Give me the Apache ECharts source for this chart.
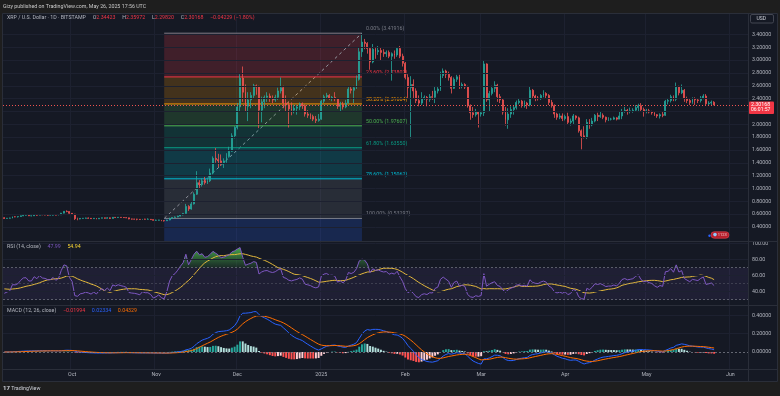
<!DOCTYPE html>
<html><head><meta charset="utf-8">
<script src="https://cdn.jsdelivr.net/npm/echarts@6/dist/echarts.min.js"></script>
<style>html,body{margin:0;padding:0;background:#151924;}#c{width:780px;height:396px;}</style>
</head><body><div id="c"></div>
<script>
// ---------- DATA ----------
const startDate = '2024-09-06';
const totalDays = 275; // daily slots shown on the time scale (data + right margin)
const tickDates  = ['2024-10-01','2024-11-01','2024-12-01','2025-01-01','2025-02-01','2025-03-01','2025-04-01','2025-05-01','2025-06-01'];
const tickLabels = ['Oct','Nov','Dec','2025','Feb','Mar','Apr','May','Jun'];
const priceTicks = [0.4,0.6,0.8,1.0,1.2,1.4,1.6,1.8,2.0,2.2,2.4,2.6,2.8,3.0,3.2,3.4];
const rsiTicks  = [40,60,80,100];
const macdTicks = [0,0.2,0.4];

const firstOpen = 0.545;
// daily bars: [close, high, low]; open = previous close
const sep2024 = [
 [0.533,0.552,0.525],[0.537,0.541,0.530],[0.540,0.545,0.532],[0.560,0.562,0.535],[0.559,0.568,0.552],
 [0.563,0.566,0.548],[0.574,0.578,0.560],[0.583,0.588,0.569],[0.584,0.590,0.578],[0.575,0.588,0.570],
 [0.575,0.580,0.566],[0.589,0.595,0.572],[0.584,0.595,0.575],[0.595,0.603,0.582],[0.589,0.598,0.584],
 [0.588,0.591,0.583],[0.585,0.592,0.575],[0.585,0.594,0.580],[0.591,0.596,0.578],[0.585,0.596,0.582],
 [0.590,0.596,0.580],[0.616,0.620,0.588],[0.644,0.646,0.612],[0.642,0.659,0.630],[0.613,0.645,0.605]];
const oct2024 = [
 [0.600,0.617,0.590],[0.530,0.605,0.510],[0.525,0.545,0.505],[0.534,0.538,0.520],[0.536,0.540,0.530],
 [0.540,0.545,0.532],[0.536,0.548,0.530],[0.530,0.540,0.525],[0.536,0.540,0.528],[0.527,0.540,0.520],
 [0.537,0.540,0.525],[0.543,0.546,0.535],[0.536,0.545,0.530],[0.543,0.552,0.533],[0.533,0.548,0.525],
 [0.551,0.556,0.532],[0.547,0.553,0.540],[0.551,0.555,0.543],[0.548,0.553,0.544],[0.546,0.550,0.540],
 [0.543,0.555,0.538],[0.525,0.545,0.520],[0.523,0.530,0.515],[0.522,0.528,0.516],[0.520,0.528,0.505],
 [0.517,0.522,0.510],[0.523,0.526,0.513],[0.520,0.528,0.515],[0.520,0.535,0.515],[0.515,0.525,0.510],
 [0.504,0.518,0.500]];
const nov2024 = [
 [0.506,0.515,0.495],[0.509,0.512,0.500],[0.500,0.510,0.490],[0.497,0.505,0.485],[0.509,0.515,0.495],
 [0.532,0.545,0.505],[0.549,0.555,0.530],[0.556,0.565,0.545],[0.570,0.575,0.552],[0.590,0.600,0.565],
 [0.612,0.618,0.580],[0.720,0.760,0.630],[0.680,0.740,0.650],[0.760,0.790,0.670],[0.910,0.940,0.750],
 [1.090,1.270,0.900],[1.060,1.130,0.990],[1.120,1.160,1.030],[1.090,1.180,1.060],[1.120,1.170,1.070],
 [1.240,1.310,1.100],[1.470,1.500,1.220],[1.450,1.630,1.400],[1.430,1.540,1.330],[1.400,1.530,1.350],
 [1.430,1.470,1.320],[1.500,1.550,1.400],[1.580,1.650,1.480],[1.820,1.860,1.570],[1.950,1.970,1.780]];
const dec2024 = [
 [2.270,2.330,1.920],[2.720,2.780,2.200],[2.500,2.900,2.350],[2.280,2.620,2.200],[2.380,2.500,2.050],
 [2.450,2.500,2.250],[2.600,2.630,2.400],[2.580,2.620,2.460],[2.220,2.600,1.940],[2.350,2.430,2.030],
 [2.420,2.450,2.250],[2.440,2.500,2.350],[2.400,2.480,2.350],[2.380,2.450,2.330],[2.420,2.460,2.350],
 [2.520,2.570,2.380],[2.570,2.730,2.480],[2.330,2.600,2.250],[2.300,2.450,2.200],[2.240,2.350,1.950],
 [2.220,2.340,2.140],[2.250,2.300,2.170],[2.270,2.300,2.150],[2.320,2.340,2.220],[2.290,2.340,2.240],
 [2.160,2.310,2.120],[2.140,2.220,2.100],[2.120,2.170,2.080],[2.080,2.150,2.050],[2.060,2.130,2.020],
 [2.080,2.160,2.040]];
const jan2025 = [
 [2.360,2.380,2.070],[2.430,2.460,2.330],[2.450,2.490,2.390],[2.410,2.470,2.380],[2.420,2.440,2.360],
 [2.400,2.500,2.360],[2.280,2.410,2.240],[2.310,2.350,2.200],[2.270,2.350,2.230],[2.330,2.380,2.250],
 [2.550,2.580,2.320],[2.530,2.580,2.480],[2.570,2.600,2.330],[2.700,2.760,2.550],[3.130,3.200,2.680],
 [3.280,3.410,3.050],[3.260,3.330,3.170],[3.180,3.280,3.100],[2.970,3.200,2.850],[3.170,3.250,2.950],
 [3.130,3.200,3.020],[3.150,3.220,3.080],[3.120,3.200,3.000],[3.100,3.170,3.050],[3.120,3.150,3.050],
 [3.060,3.150,3.030],[3.100,3.120,2.680],[3.080,3.150,3.020],[3.180,3.200,3.050],[3.060,3.220,3.030],
 [2.950,3.100,2.900]];
const feb2025 = [
 [2.730,2.970,2.700],[2.570,2.780,2.400],[2.620,2.750,1.780],[2.520,2.700,2.400],[2.370,2.560,2.330],
 [2.330,2.450,2.280],[2.400,2.500,2.300],[2.420,2.450,2.380],[2.390,2.440,2.280],[2.430,2.470,2.350],
 [2.420,2.520,2.380],[2.520,2.580,2.330],[2.550,2.580,2.480],[2.760,2.820,2.520],[2.830,2.870,2.720],
 [2.780,2.850,2.720],[2.730,2.820,2.680],[2.560,2.750,2.480],[2.700,2.730,2.550],[2.740,2.770,2.660],
 [2.590,2.770,2.550],[2.620,2.650,2.560],[2.580,2.640,2.550],[2.290,2.600,2.260],[2.180,2.310,2.070],
 [2.150,2.270,2.100],[2.190,2.240,2.120],[2.160,2.200,1.950]];
const mar2025 = [
 [2.180,2.210,2.120],[2.940,3.000,2.130],[2.380,2.950,2.350],[2.480,2.520,2.200],[2.560,2.600,2.450],
 [2.610,2.670,2.500],[2.430,2.630,2.350],[2.380,2.470,2.330],[2.190,2.400,2.150],[2.070,2.270,1.980],
 [2.160,2.250,1.930],[2.230,2.280,2.100],[2.260,2.300,2.150],[2.340,2.370,2.230],[2.360,2.400,2.310],
 [2.310,2.380,2.260],[2.330,2.370,2.260],[2.300,2.350,2.240],[2.530,2.590,2.280],[2.440,2.550,2.400],
 [2.410,2.460,2.360],[2.400,2.440,2.370],[2.450,2.470,2.380],[2.480,2.530,2.420],[2.450,2.500,2.400],
 [2.340,2.470,2.300],[2.290,2.380,2.260],[2.160,2.310,2.100],[2.110,2.180,2.070],[2.130,2.170,2.080],
 [2.090,2.170,2.050]];
const apr2025 = [
 [2.120,2.150,2.060],[2.030,2.180,2.000],[2.050,2.090,1.980],[2.130,2.160,2.000],[2.100,2.140,2.070],
 [1.900,2.120,1.870],[1.820,1.920,1.610],[1.800,1.970,1.780],[2.030,2.080,1.770],[1.990,2.080,1.930],
 [2.050,2.100,1.970],[2.140,2.160,2.030],[2.120,2.180,2.050],[2.140,2.200,2.100],[2.110,2.170,2.080],
 [2.070,2.120,2.030],[2.080,2.110,2.050],[2.080,2.100,2.060],[2.100,2.120,2.070],[2.080,2.110,2.060],
 [2.130,2.200,2.080],[2.200,2.240,2.080],[2.220,2.270,2.180],[2.200,2.240,2.150],[2.210,2.260,2.170],
 [2.220,2.250,2.180],[2.260,2.300,2.200],[2.290,2.320,2.190],[2.230,2.330,2.200],[2.200,2.260,2.120]];
const may2025 = [
 [2.210,2.240,2.170],[2.190,2.240,2.170],[2.180,2.210,2.150],[2.150,2.190,2.130],[2.130,2.160,2.100],
 [2.150,2.170,2.090],[2.140,2.190,2.110],[2.360,2.380,2.130],[2.370,2.410,2.310],[2.430,2.460,2.340],
 [2.390,2.450,2.360],[2.590,2.650,2.360],[2.490,2.600,2.450],[2.530,2.620,2.470],[2.400,2.550,2.350],
 [2.370,2.430,2.330],[2.340,2.400,2.300],[2.390,2.420,2.320],[2.380,2.420,2.300],[2.370,2.400,2.330],
 [2.410,2.440,2.340],[2.440,2.470,2.390],[2.320,2.470,2.300],[2.330,2.360,2.300],[2.34423,2.370,2.300],
 [2.30168,2.35972,2.29820]];

// Fibonacci retracement drawn on the chart
const fibStartDate = '2024-11-04';
const fibEndDate   = '2025-01-16';
const fibPrices = [3.41916,2.73802,2.31664,1.97607,1.63550,1.15062,0.53297];
const fibLabels = ['0.00% (3.41916)','23.60% (2.73802)','38.20% (2.31664)','50.00% (1.97607)','61.80% (1.63550)','78.60% (1.15062)','100.00% (0.53297)'];

// legend values shown in the reference
const legendOHLC = ['2.34423','2.35972','2.29820','2.30168'];
const legendChange = '\u22120.04229 (\u22121.80%)';
const rsiLegend = ['47.99','54.94'];
const macdLegend = ['\u22120.01994','0.02334','0.04329'];
const rsiStart = 38, rsiMaStart = 44;   // indicator values at the left edge

// ---------- STYLE / LAYOUT ----------
const FONT = 'Roboto, "Liberation Sans", sans-serif';
const TXT = '#b2b5be';
const UP = '#26a69a', DOWN = '#ef5350';
const GRIDC = '#1d2130';
const FS = 5.3;
const mainMin = 0.182, mainMax = 3.718;
const fibLineColors = ['#787b86','#f23645','#ff9800','#4caf50','#089981','#00bcd4','#787b86'];
const fibFillColors = ['rgba(242,54,69,0.2)','rgba(255,152,0,0.2)','rgba(76,175,80,0.2)','rgba(8,153,129,0.2)','rgba(0,188,212,0.2)','rgba(120,123,134,0.2)','rgba(41,98,255,0.2)'];

// ---------- BUILD ----------
const bars = [].concat(sep2024, oct2024, nov2024, dec2024, jan2025, feb2025, mar2025, apr2025, may2025);
const closes = bars.map(b => b[0]);
const opens = closes.map((c, i) => i === 0 ? firstOpen : closes[i - 1]);
const candleData = bars.map((b, i) => [opens[i], b[0], b[2], b[1]]);

const dates = [];
const d0 = Date.UTC(2024, 8, 6);
for (let i = 0; i < totalDays; i++) dates.push(new Date(d0 + i * 86400000).toISOString().slice(0, 10));

// RSI(14, close) with its 14-bar moving average
const avgMove = 0.011;
let au = avgMove * rsiStart / 100, ad = avgMove * (1 - rsiStart / 100);
const rsi = [rsiStart];
for (let i = 1; i < closes.length; i++) {
  const ch = closes[i] - closes[i - 1];
  au = (au * 13 + Math.max(ch, 0)) / 14;
  ad = (ad * 13 + Math.max(-ch, 0)) / 14;
  rsi.push(ad === 0 ? 100 : 100 - 100 / (1 + au / ad));
}
const rsiMa = rsi.map((v, i) => {
  let s = 0, c = 0;
  for (let j = Math.max(0, i - 13); j <= i; j++) { s += rsi[j]; c++; }
  return (s + rsiMaStart * (14 - c)) / 14;
});
// MACD(12, 26, close)
function ema(src, len) { const a = 2 / (len + 1); let e = src[0]; return src.map((v, i) => (e = i === 0 ? v : a * v + (1 - a) * e)); }
const e12 = ema(closes, 12), e26 = ema(closes, 26);
const macd = e12.map((v, i) => v - e26[i]);
const signal = ema(macd, 9);
const hist = macd.map((v, i) => v - signal[i]);
const histData = hist.map((h, i) => {
  const p = i === 0 ? 0 : hist[i - 1];
  const col = h >= 0 ? (h > p ? '#26a69a' : '#b2dfdb') : (h < p ? '#ff5252' : '#ffcdd2');
  return { value: h, itemStyle: { color: col } };
});

const isTick = (i, v) => tickDates.indexOf(v) >= 0;
const xAxes = [0, 1, 2].map(g => ({
  gridIndex: g, type: 'category', data: dates, boundaryGap: true,
  axisLine: { show: false }, axisTick: { show: false },
  axisLabel: { show: g === 2, interval: isTick, formatter: v => tickLabels[tickDates.indexOf(v)] || '',
    color: TXT, fontSize: FS, fontFamily: FONT, margin: 3 },
  splitLine: { show: true, interval: isTick, lineStyle: { color: GRIDC, width: 1 } }
}));
const yLabel = (vals, fmt) => ({ customValues: vals, color: TXT, fontSize: FS, fontFamily: FONT, margin: 4, formatter: fmt });
const yAxes = [
  { gridIndex: 0, type: 'value', position: 'right', min: mainMin, max: mainMax,
    axisLine: { show: false }, axisTick: { show: false, customValues: priceTicks }, splitLine: { show: false },
    axisLabel: yLabel(priceTicks, v => v.toFixed(5)) },
  { gridIndex: 1, type: 'value', position: 'right', min: 23.4, max: 103.4,
    axisLine: { show: false }, axisTick: { show: false, customValues: rsiTicks }, splitLine: { show: false },
    axisLabel: yLabel(rsiTicks, v => v.toFixed(2)) },
  { gridIndex: 2, type: 'value', position: 'right', min: -0.185, max: 0.512,
    axisLine: { show: false }, axisTick: { show: false, customValues: macdTicks }, splitLine: { show: false },
    axisLabel: yLabel(macdTicks, v => v.toFixed(5)) }
];
const gridLines = (vals) => vals.map(v => ({ yAxis: v, lineStyle: { color: GRIDC, width: 1, type: 'solid' } }));

const i0 = dates.indexOf(fibStartDate), i1 = dates.indexOf(fibEndDate);
const fibSeries = {
  type: 'custom', xAxisIndex: 0, yAxisIndex: 0, z: 1, silent: true, clip: true,
  data: fibPrices.map((p, k) => [k]),
  encode: { x: -1, y: -1 },
  renderItem(params, api) {
    const k = params.dataIndex;
    const tl = api.coord([i0, fibPrices[k]]);
    const tr = api.coord([i1, fibPrices[k]]);
    const lowP = k < fibPrices.length - 1 ? fibPrices[k + 1] : mainMin;
    const bl = api.coord([i0, lowP]);
    const children = [
      { type: 'rect', shape: { x: tl[0], y: tl[1], width: tr[0] - tl[0], height: bl[1] - tl[1] }, style: { fill: fibFillColors[k] } },
      { type: 'line', shape: { x1: tl[0], y1: tl[1], x2: tr[0], y2: tr[1] }, style: { stroke: fibLineColors[k], lineWidth: 1 } },
      { type: 'text', style: { text: fibLabels[k], x: tr[0] + 4, y: tr[1] - 2, fill: fibLineColors[k], fontSize: FS, fontFamily: FONT,
          textAlign: 'left', textVerticalAlign: 'bottom', align: 'left', verticalAlign: 'bottom' } }
    ];
    if (k === 0) {
      const a = api.coord([i0, fibPrices[fibPrices.length - 1]]);
      children.push({ type: 'line', shape: { x1: a[0], y1: a[1], x2: tr[0], y2: tr[1] }, style: { stroke: '#9598a1', lineWidth: 1, lineDash: [3, 3] } });
    }
    return { type: 'group', children };
  }
};

const lastClose = closes[closes.length - 1];
const option = {
  backgroundColor: '#151924',
  animation: false,
  grid: [
    { left: 3, right: 32, top: 14, height: 227, outerBoundsMode: 'none' },
    { left: 3, right: 32, top: 241, height: 64, outerBoundsMode: 'none' },
    { left: 3, right: 32, top: 305, height: 64, outerBoundsMode: 'none' }
  ],
  xAxis: xAxes, yAxis: yAxes,
  series: [
    { type: 'line', xAxisIndex: 0, yAxisIndex: 0, data: [], z: 0, silent: true,
      markLine: { silent: true, symbol: ['none', 'none'], label: { show: false }, data: gridLines(priceTicks) } },
    fibSeries,
    { type: 'candlestick', name: 'XRPUSD', xAxisIndex: 0, yAxisIndex: 0, data: candleData, barWidth: 1.4, z: 3,
      itemStyle: { color: UP, color0: DOWN, borderColor: UP, borderColor0: DOWN, borderWidth: 0.8 },
      markLine: { silent: true, symbol: ['none', 'none'], label: { show: false },
        data: [{ yAxis: lastClose, lineStyle: { color: DOWN, width: 1, type: [1, 2] } }] } },
    // RSI pane
    { type: 'line', xAxisIndex: 1, yAxisIndex: 1, data: [], z: 0, silent: true,
      markLine: { silent: true, symbol: ['none', 'none'], label: { show: false }, data: gridLines(rsiTicks) } },
    { type: 'line', name: 'obBase', xAxisIndex: 1, yAxisIndex: 1, stack: 'ob', data: rsi.map(() => 70),
      showSymbol: false, lineStyle: { opacity: 0 }, silent: true, z: 2 },
    { type: 'line', name: 'obFill', xAxisIndex: 1, yAxisIndex: 1, stack: 'ob', data: rsi.map(v => Math.max(v - 70, 0)),
      showSymbol: false, lineStyle: { opacity: 0 }, silent: true, z: 2,
      areaStyle: { opacity: 1, color: { type: 'linear', x: 0, y: 0, x2: 0, y2: 1,
        colorStops: [{ offset: 0, color: 'rgba(76,175,80,0.95)' }, { offset: 1, color: 'rgba(56,142,60,0.15)' }] } } },
    { type: 'line', name: 'RSI', xAxisIndex: 1, yAxisIndex: 1, data: rsi, showSymbol: false, z: 4,
      lineStyle: { color: '#7e57c2', width: 1 },
      markArea: { silent: true, itemStyle: { color: 'rgba(126,87,194,0.1)' }, data: [[{ yAxis: 30 }, { yAxis: 70 }]] },
      markLine: { silent: true, symbol: ['none', 'none'], label: { show: false },
        lineStyle: { color: 'rgba(120,123,134,0.7)', type: [2, 2], width: 1 },
        data: [{ yAxis: 70 }, { yAxis: 50, lineStyle: { color: 'rgba(120,123,134,0.35)', type: [2, 2] } }, { yAxis: 30 }] } },
    { type: 'line', name: 'RSI MA', xAxisIndex: 1, yAxisIndex: 1, data: rsiMa, showSymbol: false, z: 3,
      lineStyle: { color: '#e3b83c', width: 1 } },
    // MACD pane
    { type: 'line', xAxisIndex: 2, yAxisIndex: 2, data: [], z: 0, silent: true,
      markLine: { silent: true, symbol: ['none', 'none'], label: { show: false }, data: gridLines(macdTicks.slice(1)) } },
    { type: 'bar', name: 'Histogram', xAxisIndex: 2, yAxisIndex: 2, data: histData, barWidth: '72%', z: 2,
      markLine: { silent: true, symbol: ['none', 'none'], label: { show: false },
        data: [{ yAxis: 0, lineStyle: { color: 'rgba(120,123,134,0.8)', type: [2, 2], width: 1 } }] } },
    { type: 'line', name: 'MACD', xAxisIndex: 2, yAxisIndex: 2, data: macd, showSymbol: false, z: 3,
      lineStyle: { color: '#2962ff', width: 1 } },
    { type: 'line', name: 'Signal', xAxisIndex: 2, yAxisIndex: 2, data: signal, showSymbol: false, z: 3,
      lineStyle: { color: '#ff6d00', width: 1 } }
  ]
};

const chart = echarts.init(document.getElementById('c'), null, { renderer: 'canvas' });
chart.setOption(option);

const py = chart.convertToPixel({ yAxisIndex: 0 }, lastClose);
const T = (text, x, y, fill, size) => ({ type: 'text', z: 50, silent: true,
  style: { text, x, y, fill, fontSize: size || FS, fontFamily: FONT, align: 'left', verticalAlign: 'middle' } });
const rs = (fill) => ({ fill, fontSize: FS, fontFamily: FONT });
chart.setOption({
  graphic: [
    { type: 'rect', z: 40, silent: true, shape: { x: 0, y: 0, width: 780, height: 13 }, style: { fill: '#1e1e1e' } },
    { type: 'rect', z: 40, silent: true, shape: { x: 0, y: 382, width: 780, height: 14 }, style: { fill: '#1e1e1e' } },
    { type: 'rect', z: 40, silent: true, shape: { x: 0, y: 13, width: 2, height: 369 }, style: { fill: '#1e1e1e' } },
    { type: 'rect', z: 40, silent: true, shape: { x: 778, y: 13, width: 2, height: 369 }, style: { fill: '#1e1e1e' } },
    { type: 'rect', z: 41, silent: true, shape: { x: 2.5, y: 13.5, width: 775, height: 368 }, style: { fill: null, stroke: '#2a2e39', lineWidth: 1 } },
    { type: 'line', z: 41, silent: true, shape: { x1: 3, y1: 241.5, x2: 777, y2: 241.5 }, style: { stroke: '#2a2e39', lineWidth: 1 } },
    { type: 'line', z: 41, silent: true, shape: { x1: 3, y1: 305.5, x2: 777, y2: 305.5 }, style: { stroke: '#2a2e39', lineWidth: 1 } },
    { type: 'line', z: 41, silent: true, shape: { x1: 3, y1: 369.5, x2: 777, y2: 369.5 }, style: { stroke: '#2a2e39', lineWidth: 1 } },
    { type: 'line', z: 41, silent: true, shape: { x1: 748.5, y1: 14, x2: 748.5, y2: 381 }, style: { stroke: '#2a2e39', lineWidth: 1 } },
    T('Gizy published on TradingView.com, May 26, 2025 17:56 UTC', 3, 6.5, '#c8c8c8', FS),
    { type: 'text', z: 50, silent: true, style: { x: 7, y: 17.3, verticalAlign: 'middle', align: 'left',
      text: '{g|XRP / U.S. Dollar \u00b7 1D \u00b7 BITSTAMP}  {g|O}{r|' + legendOHLC[0] + '}  {g|H}{r|' + legendOHLC[1] + '}  {g|L}{r|' + legendOHLC[2] + '}  {g|C}{r|' + legendOHLC[3] + '}  {r|' + legendChange + '}',
      rich: { g: rs(TXT), r: rs('#f23645') } } },
    { type: 'text', z: 50, silent: true, style: { x: 7, y: 246.7, verticalAlign: 'middle', align: 'left',
      text: '{g|RSI (14, close)}  {p|' + rsiLegend[0] + '}  {y|' + rsiLegend[1] + '}',
      rich: { g: rs(TXT), p: rs('#7e57c2'), y: rs('#fdd835') } } },
    { type: 'text', z: 50, silent: true, style: { x: 7, y: 311, verticalAlign: 'middle', align: 'left',
      text: '{g|MACD (12, 26, close)}  {r|' + macdLegend[0] + '}  {b|' + macdLegend[1] + '}  {o|' + macdLegend[2] + '}',
      rich: { g: rs(TXT), r: rs('#f23645'), b: rs('#2962ff'), o: rs('#ff6d00') } } },
    // last price tag
    { type: 'rect', z: 45, silent: true, shape: { x: 749, y: py - 3.5, width: 25, height: 12.5, r: 1 }, style: { fill: '#f23645' } },
    T(lastClose.toFixed(5), 751, py - 0.2, '#ffffff', FS),
    T('06:01:57', 751, py + 5.3, '#ffffff', 5),
    // currency button
    { type: 'rect', z: 45, silent: true, shape: { x: 750.5, y: 14.5, width: 23, height: 8.5, r: 1.5 }, style: { fill: '#151924', stroke: '#434651', lineWidth: 1 } },
    T('USD', 756.5, 18.8, '#d1d4dc', 5),
    // events marker
    { type: 'circle', z: 45, silent: true, shape: { cx: 709.5, cy: 235.7, r: 1.2 }, style: { fill: '#2962ff' } },
    { type: 'rect', z: 45, silent: true, shape: { x: 711, y: 231.7, width: 18, height: 6.6, r: 3.3 }, style: { fill: '#b7202d', stroke: '#e0414d', lineWidth: 0.6 } },
    { type: 'circle', z: 46, silent: true, shape: { cx: 715, cy: 234.6, r: 1.8 }, style: { fill: '#90caf9' } },
    T('1123', 717.8, 235, '#f0c8cc', 4),
    // footer logo
    { type: 'text', z: 50, silent: true, style: { x: 3, y: 388.5, verticalAlign: 'middle', align: 'left',
      text: '{a|17}{b| TradingView}', rich: { a: { fill: '#d1d4dc', fontSize: 6, fontWeight: 'bold', fontFamily: FONT }, b: { fill: '#d1d4dc', fontSize: FS, fontFamily: FONT } } } }
  ]
});
</script></body></html>
